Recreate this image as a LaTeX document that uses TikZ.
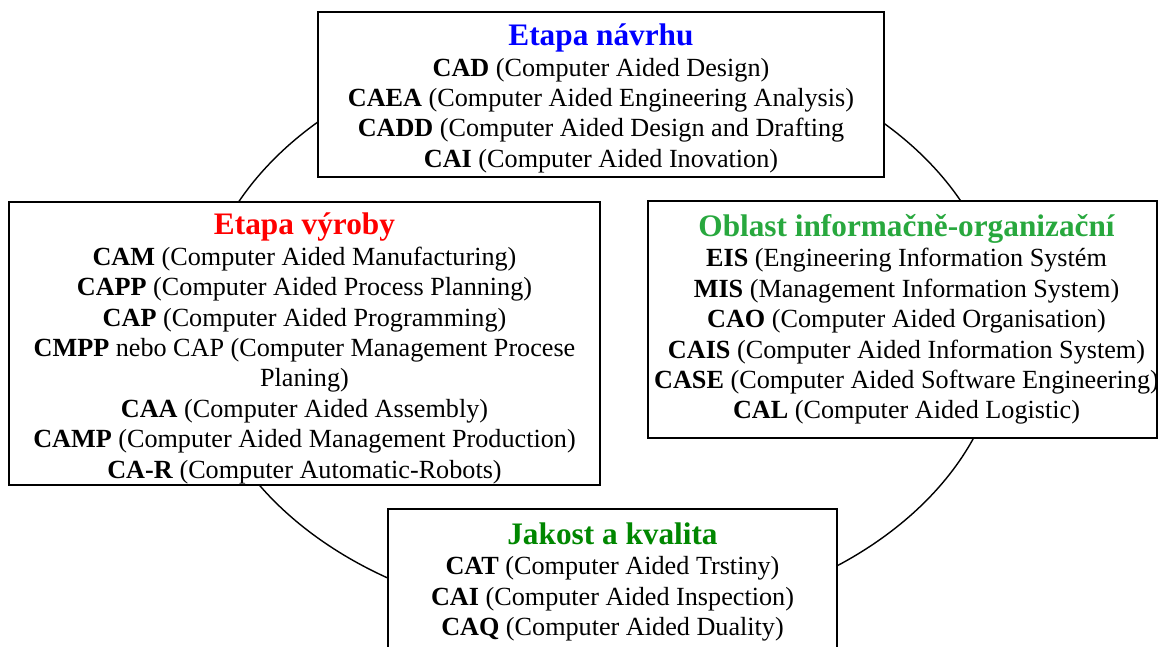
\documentclass[tikz,border=0pt]{standalone}
\usepackage{fontspec}
\setmainfont{Liberation Serif}
\usepackage{xcolor}
\definecolor{navrhblue}{RGB}{0,0,255}
\definecolor{vyrobred}{RGB}{255,0,0}
\definecolor{oblastgreen}{RGB}{40,168,62}
\definecolor{jakostgreen}{RGB}{0,135,0}
\newcommand{\stagehead}[2]{{\fontsize{17.8}{20}\selectfont\bfseries\color{#1}#2}}

\begin{document}
\begin{tikzpicture}[
    stagebox/.style={draw, line width=1.4pt, fill=white, inner sep=0pt},
    stagetext/.style={align=center, inner sep=0pt, font=\fontsize{14.9}{17.3}\selectfont}
]
% Define the page and the circle
\useasboundingbox (0,0) rectangle (23.16,12.94);
\clip (0,0) rectangle (23.16,12.94);
\coordinate (O) at (12.0,6.34);

% Draw the circle behind the boxes
\draw[line width=0.8pt] (O) ellipse (8.04 and 5.84);

% Draw top box
\node[stagebox, minimum width=11.32cm, minimum height=3.3cm] (navrh) at (12.02,11.05) {};
\node[stagetext] (navrh text) at ([yshift=-0.08cm]navrh.center)
    {\stagehead{navrhblue}{Etapa návrhu}\\
     \textbf{CAD} (Computer Aided Design)\\
     \textbf{CAEA} (Computer Aided Engineering Analysis)\\
     \textbf{CADD} (Computer Aided Design and Drafting\\
     \textbf{CAI} (Computer Aided Inovation)};

% Draw left box
\node[stagebox, minimum width=11.82cm, minimum height=5.66cm] (vyroba) at (6.09,6.07) {};
\node[stagetext] (vyroba text) at ([yshift=-0.1cm]vyroba.center)
    {\stagehead{vyrobred}{Etapa výroby}\\
     \textbf{CAM} (Computer Aided Manufacturing)\\
     \textbf{CAPP} (Computer Aided Process Planning)\\
     \textbf{CAP} (Computer Aided Programming)\\
     \textbf{CMPP} nebo CAP (Computer Management Procese\\
     Planing)\\
     \textbf{CAA} (Computer Aided Assembly)\\
     \textbf{CAMP} (Computer Aided Management Production)\\
     \textbf{CA-R} (Computer Automatic-Robots)};

% Draw right box
\node[stagebox, minimum width=10.18cm, minimum height=4.74cm] (oblast) at (18.05,6.55) {};
\node[stagetext] (oblast text) at ([xshift=0.08cm]oblast.center)
    {\stagehead{oblastgreen}{Oblast informačně-organizační}\\
     \textbf{EIS} (Engineering Information Systém\\
     \textbf{MIS} (Management Information System)\\
     \textbf{CAO} (Computer Aided Organisation)\\
     \textbf{CAIS} (Computer Aided Information System)\\
     \textbf{CASE} (Computer Aided Software Engineering)\\
     \textbf{CAL} (Computer Aided Logistic)};

% Draw bottom box
\node[stagebox, minimum width=8.98cm, minimum height=2.84cm] (jakost) at (12.25,1.34) {};
\node[stagetext] (jakost text) at ([yshift=-0.04cm]jakost.center)
    {\stagehead{jakostgreen}{Jakost a kvalita}\\
     \textbf{CAT} (Computer Aided Trstiny)\\
     \textbf{CAI} (Computer Aided Inspection)\\
     \textbf{CAQ} (Computer Aided Duality)};
\end{tikzpicture}
\end{document}
